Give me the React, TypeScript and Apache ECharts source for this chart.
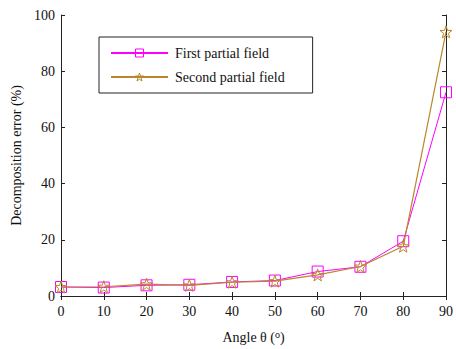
import React, { useEffect, useRef } from "react";
import * as echarts from "echarts";

const angles = ["0", "10", "20", "30", "40", "50", "60", "70", "80", "90"];
const firstField = [3.2, 3.0, 3.8, 4.0, 5.0, 5.5, 8.7, 10.4, 19.5, 72.5];
const secondField = [3.2, 3.3, 4.2, 3.8, 4.9, 5.3, 7.5, 10.5, 17.7, 94.0];
const seriesNames = ["First partial field", "Second partial field"];
const yTicks = [0, 20, 40, 60, 80, 100];

const starPath = (() => {
  const pts: string[] = [];
  for (let k = 0; k < 10; k++) {
    const r = k % 2 === 0 ? 10 : 4;
    const a = (-90 + k * 36) * Math.PI / 180;
    pts.push(`${(10 + r * Math.cos(a)).toFixed(2)} ${(10 + r * Math.sin(a)).toFixed(2)}`);
  }
  return "path://M" + pts.join(" L") + " Z";
})();

const FONT = "'Liberation Serif', 'Times New Roman', serif";
const MAGENTA = "#ff00ff";
const GOLD = "#b8862b";

export default function App() {
  const ref = useRef<HTMLDivElement>(null);
  useEffect(() => {
    document.body.style.margin = "0";
    document.body.style.overflow = "hidden";
    const chart = echarts.init(ref.current!, null, { renderer: "svg" });
    const axisLine = { show: true, lineStyle: { color: "#222", width: 1 } };
    chart.setOption({
      animation: false,
      backgroundColor: "#fff",
      textStyle: { fontFamily: FONT },
      grid: { left: 61, right: 4, top: 15, bottom: 51, containLabel: false },
      legend: {
        orient: "vertical",
        left: 99,
        top: 37,
        borderColor: "#222",
        borderWidth: 1,
        padding: [9, 28, 9, 11],
        itemGap: 10,
        itemWidth: 57,
        itemHeight: 10,
        backgroundColor: "#fff",
        textStyle: { fontFamily: FONT, fontSize: 14, color: "#111", padding: [0, 0, 0, 2] },
        data: [
          { name: seriesNames[0], itemStyle: { color: "rgba(255,255,255,0)", borderColor: MAGENTA, borderWidth: 1 } },
          { name: seriesNames[1], itemStyle: { color: "rgba(255,255,255,0)", borderColor: GOLD, borderWidth: 1 } },
        ],
      },
      xAxis: [
        {
          type: "category",
          data: angles,
          boundaryGap: false,
          axisLine,
          axisTick: { show: true, inside: true, length: 4, alignWithLabel: true, lineStyle: { color: "#222" } },
          axisLabel: { fontFamily: FONT, fontSize: 14, color: "#111", margin: 8 },
          splitLine: { show: false },
          name: "Angle θ ({sup|o})",
          nameLocation: "middle",
          nameGap: 33,
          nameTextStyle: {
            fontFamily: FONT,
            fontSize: 14,
            color: "#111",
            rich: { sup: { fontFamily: FONT, fontSize: 10, verticalAlign: "top", padding: [0, 0, 6, 0], color: "#111" } },
          },
        },
        {
          type: "category",
          data: angles,
          boundaryGap: false,
          position: "top",
          axisLine,
          axisTick: { show: true, inside: true, length: 4, lineStyle: { color: "#222" } },
          axisLabel: { show: false },
        },
      ],
      yAxis: [
        {
          type: "value",
          min: 0,
          max: 100,
          interval: 20,
          axisLine,
          axisTick: { show: true, inside: true, length: 4, lineStyle: { color: "#222" } },
          axisLabel: { fontFamily: FONT, fontSize: 14, color: "#111", margin: 6,
            formatter: (v: number) => (yTicks.includes(v) ? String(v) : "") },
          splitLine: { show: false },
          name: "Decomposition error (%)",
          nameLocation: "middle",
          nameGap: 38,
          nameTextStyle: { fontFamily: FONT, fontSize: 14, color: "#111" },
        },
        {
          type: "value",
          min: 0,
          max: 100,
          interval: 20,
          position: "right",
          axisLine,
          axisTick: { show: true, inside: true, length: 4, lineStyle: { color: "#222" } },
          axisLabel: { show: false },
          splitLine: { show: false },
        },
      ],
      series: [
        {
          name: seriesNames[0],
          type: "line",
          data: firstField,
          symbol: "rect",
          symbolSize: 11,
          showAllSymbol: true,
          lineStyle: { color: MAGENTA, width: 1 },
          itemStyle: { color: "rgba(255,255,255,0)", borderColor: MAGENTA, borderWidth: 1 },
          z: 2,
        },
        {
          name: seriesNames[1],
          type: "line",
          data: secondField,
          symbol: starPath,
          symbolSize: 12,
          showAllSymbol: true,
          lineStyle: { color: GOLD, width: 1.2 },
          itemStyle: { color: "rgba(255,255,255,0)", borderColor: GOLD, borderWidth: 1 },
          z: 3,
        },
      ],
    });
    return () => chart.dispose();
  }, []);
  return <div ref={ref} style={{ width: 456, height: 349, position: "fixed", left: 0, top: 0 }} />;
}
